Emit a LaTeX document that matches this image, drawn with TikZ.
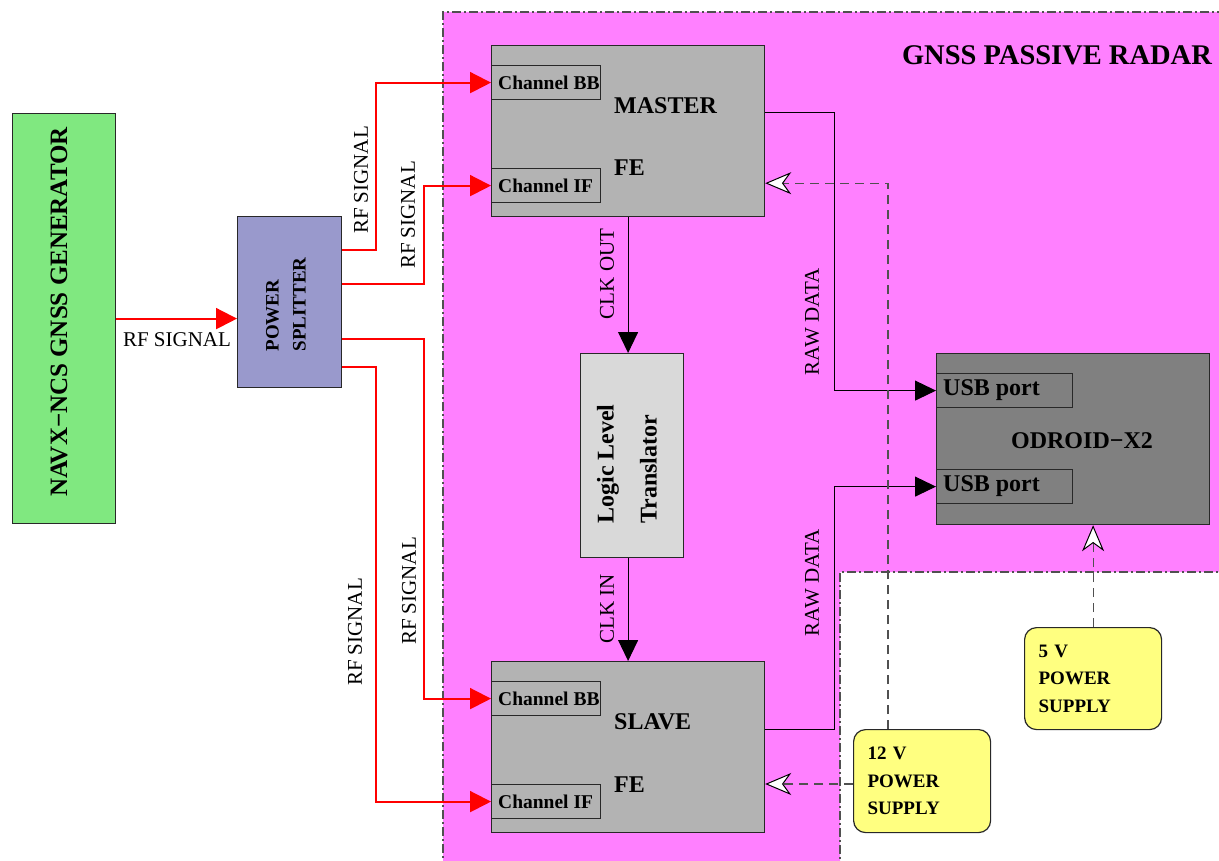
\documentclass[tikz,border=0pt]{standalone}
\usepackage{fontspec}
\setmainfont{Liberation Serif}
\usetikzlibrary{arrows.meta,calc}
\definecolor{pinkbg}{RGB}{255,128,255}
\definecolor{boxgray}{RGB}{179,179,179}
\definecolor{odroidgray}{RGB}{128,128,128}
\definecolor{lltgray}{RGB}{217,217,217}
\definecolor{greenbox}{RGB}{128,232,128}
\definecolor{bluebox}{RGB}{153,153,204}
\definecolor{yellowbox}{RGB}{255,255,128}
\definecolor{bordercol}{RGB}{40,40,40}
\definecolor{dashcol}{RGB}{80,80,80}
\definecolor{rfred}{RGB}{255,0,0}
\begin{document}
\begin{tikzpicture}[x=1pt,y=-1pt,
  blk/.style={draw=bordercol, line width=1.2pt, inner sep=0pt, anchor=north west},
  psbox/.style={draw=bordercol, line width=1.2pt, fill=yellowbox, rounded corners=12pt,
     anchor=north west, inner xsep=14pt, inner ysep=0pt, align=left,
     font=\bfseries\fontsize{19}{27.5}\selectfont},
  bigtxt/.style={font=\bfseries\fontsize{24}{28}\selectfont, inner sep=0pt},
  chtxt/.style={font=\bfseries\fontsize{19.5}{22}\selectfont, inner sep=0pt, anchor=west},
  lbl/.style={font=\fontsize{21}{24}\selectfont, inner sep=0pt},
  rf/.style={draw=rfred, line width=2pt, -{Triangle[length=21pt,width=21pt]}},
  sig/.style={draw=black, line width=1pt, -{Triangle[length=21pt,width=20pt]}},
  pw/.style={draw=dashcol, line width=1.1pt, dash pattern=on 9pt off 6pt,
     -{Stealth[length=26pt,width=22pt,inset=8pt,fill=white,color=black,line width=1pt]}},
  zone/.style={draw=dashcol, line width=1.2pt, dash pattern=on 9pt off 3pt on 2pt off 3pt}
]
\useasboundingbox (0,0) rectangle (1219,861);

% radar zone
\fill[pinkbg] (443,12) -- (1230,12) -- (1230,572) -- (840,572) -- (840,870) -- (443,870) -- cycle;
\draw[zone] (443,870) -- (443,12) -- (1230,12);
\draw[zone] (1230,572) -- (840,572) -- (840,870);
\node[font=\bfseries\fontsize{28.5}{32}\selectfont, inner sep=0pt, anchor=base] (title) at (1057,65) {GNSS PASSIVE RADAR};

% generator and splitter
\node[blk, fill=greenbox, minimum width=103pt, minimum height=410pt] (navx) at (12,113) {};
\node[font=\bfseries\fontsize{25}{28}\selectfont, inner sep=0pt, rotate=90] (navxt) at (59,312) {NAVX−NCS GNSS GENERATOR};
\node[blk, fill=bluebox, minimum width=104pt, minimum height=171pt] (splitter) at (237,216) {};
\node[font=\bfseries\fontsize{19}{27}\selectfont, inner sep=0pt, rotate=90, align=left] (splittert) at (286,304.5) {POWER\\SPLITTER};

% master FE
\node[blk, fill=boxgray, minimum width=273pt, minimum height=171pt] (master) at (491,45) {};
\node[blk, fill=boxgray, minimum width=109pt, minimum height=34pt] (mbb) at (491,65) {};
\node[blk, fill=boxgray, minimum width=109pt, minimum height=34pt] (mif) at (491,168) {};
\node[chtxt] (mbbt) at ([xshift=7pt]mbb.west) {Channel BB};
\node[chtxt] (mift) at ([xshift=7pt]mif.west) {Channel IF};
\node[bigtxt, anchor=base west] (mastert) at (614,114) {MASTER};
\node[bigtxt, anchor=base west] (masterfe) at (614,176) {FE};

% slave FE
\node[blk, fill=boxgray, minimum width=273pt, minimum height=171pt] (slave) at (491,661) {};
\node[blk, fill=boxgray, minimum width=109pt, minimum height=34pt] (sbb) at (491,681) {};
\node[blk, fill=boxgray, minimum width=109pt, minimum height=34pt] (sif) at (491,784) {};
\node[chtxt] (sbbt) at ([xshift=7pt]sbb.west) {Channel BB};
\node[chtxt] (sift) at ([xshift=7pt]sif.west) {Channel IF};
\node[bigtxt, anchor=base west] (slavet) at (614,729) {SLAVE};
\node[bigtxt, anchor=base west] (slavefe) at (614,792) {FE};

% logic level translator
\node[blk, fill=lltgray, minimum width=103pt, minimum height=204pt] (llt) at (580,353) {};
\node[font=\bfseries\fontsize{24}{43}\selectfont, inner sep=0pt, rotate=90, align=left] (lltt) at (627,464) {Logic Level\\Translator};

% odroid
\node[blk, fill=odroidgray, minimum width=273pt, minimum height=171pt] (odroid) at (936,353) {};
\node[blk, fill=odroidgray, minimum width=136pt, minimum height=34pt] (usb1) at (936,373) {};
\node[blk, fill=odroidgray, minimum width=136pt, minimum height=34pt] (usb2) at (936,469) {};
\node[bigtxt, anchor=west] (usb1t) at ([xshift=7pt]usb1.west) {USB port};
\node[bigtxt, anchor=west] (usb2t) at ([xshift=7pt]usb2.west) {USB port};
\node[bigtxt, anchor=base] (odroidt) at (1082,448) {ODROID−X2};

% power supplies
\node[psbox, minimum width=137pt, minimum height=102pt, text width=109pt] (ps5) at (1024,627) {5 V\\POWER\\SUPPLY};
\node[psbox, minimum width=137pt, minimum height=103pt, text width=109pt] (ps12) at (853,729) {12 V\\POWER\\SUPPLY};

% RF connections
\draw[rf] (navx.east) -- (navx.east -| splitter.west);
\node[lbl, anchor=base] (rf0) at (177,346) {RF SIGNAL};
\draw[rf] ($(splitter.north east)+(0,34)$) -- ++(34,0) |- (mbb.west);
\draw[rf] ($(splitter.north east)+(0,68)$) -- ++(82,0) |- (mif.west);
\draw[rf] ($(splitter.north east)+(0,123)$) -- ++(82,0) |- (sbb.west);
\draw[rf] ($(splitter.north east)+(0,151)$) -- ++(34,0) |- (sif.west);
\node[lbl, rotate=90] (rf1) at (361,180) {RF SIGNAL};
\node[lbl, rotate=90] (rf2) at (408,215) {RF SIGNAL};
\node[lbl, rotate=90] (rf3) at (409,591) {RF SIGNAL};
\node[lbl, rotate=90] (rf4) at (355,632) {RF SIGNAL};

% clock
\draw[sig] (master.south) -- (master.south |- llt.north);
\draw[sig] (master.south |- llt.south) -- (slave.north);
\node[lbl, rotate=90] (clkout) at (607,274) {CLK OUT};
\node[lbl, rotate=90] (clkin) at (607,609) {CLK IN};

% raw data
\draw[sig] ($(master.north east)+(0,68)$) -- ++(69,0) |- (usb1.west);
\draw[sig] ($(slave.north east)+(0,68)$) -- ++(69,0) |- (usb2.west);
\node[lbl, rotate=90] (raw1) at (812,322) {RAW DATA};
\node[lbl, rotate=90] (raw2) at (812,583) {RAW DATA};

% power
\draw[pw] ($(ps12.north west)+(35,0)$) |- ($(master.south east)+(0,-34)$);
\draw[pw] ($(ps12.north west)+(0,55)$) -- ($(slave.north east)+(0,123)$);
\draw[pw] (ps5.north) -- (ps5.north |- odroid.south);
\end{tikzpicture}
\end{document}
